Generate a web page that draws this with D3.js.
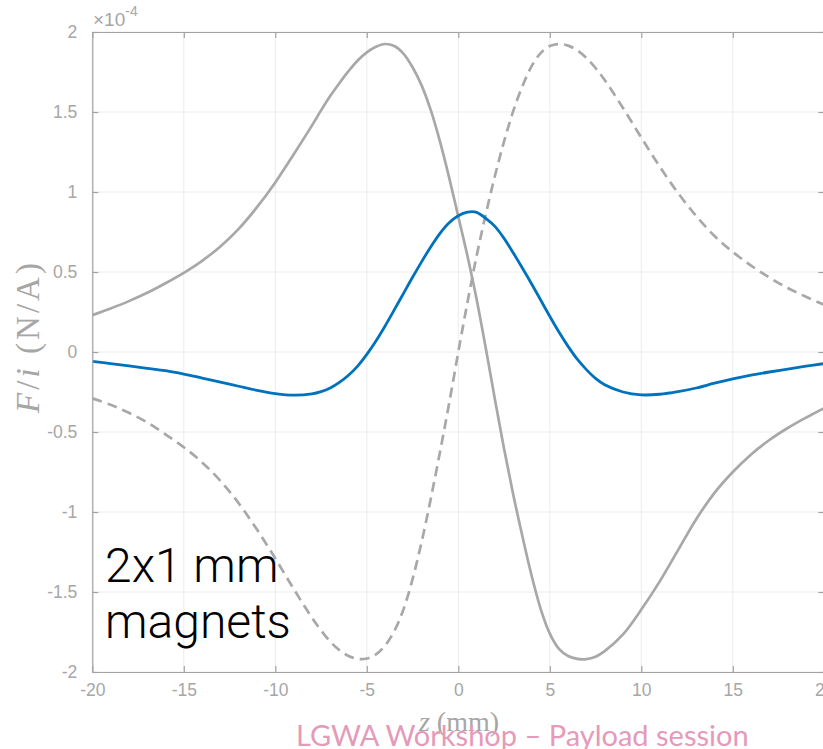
<!DOCTYPE html>
<html>
<head>
<meta charset="utf-8">
<script src="https://cdn.jsdelivr.net/npm/d3@7"></script>
<style>
  html, body { margin: 0; padding: 0; background: #fff; }
  svg { display: block; }
</style>
</head>
<body>
<svg id="chart" width="823" height="749"></svg>
<script>
// Axial position z (mm) at which the force per current is sampled
const zValues = [-20, -19, -18, -17, -16, -15, -14, -13, -12, -11, -10, -9, -8,
                 -7.5, -7, -6.5, -6, -5.5, -5, -4.5, -4, -3.5, -3, -2.5, -2, -1.5, -1, -0.5,
                 0, 0.5, 1, 1.5, 2, 2.5, 3, 3.5, 4, 4.5, 5, 5.5, 6, 6.5, 7, 7.5,
                 8, 9, 10, 11, 12, 13, 14, 15, 16, 17, 18, 19, 20];

// F/i in units of 1e-4 N/A — total force
const netForce = [-0.058, -0.072, -0.087, -0.102, -0.117, -0.138, -0.163, -0.188, -0.214, -0.24, -0.26, -0.27, -0.262,
                  -0.248, -0.225, -0.19, -0.145, -0.088, -0.015, 0.069, 0.163, 0.263, 0.365, 0.467, 0.565, 0.658, 0.742, 0.808,
                  0.852, 0.874, 0.873, 0.835, 0.785, 0.71, 0.62, 0.525, 0.427, 0.325, 0.223, 0.125, 0.035, -0.045, -0.11, -0.165,
                  -0.205, -0.25, -0.268, -0.264, -0.248, -0.225, -0.195, -0.168, -0.145, -0.125, -0.107, -0.089, -0.072];

// contribution of the first magnet
const magnetA = [0.23, 0.272, 0.318, 0.37, 0.43, 0.495, 0.57, 0.66, 0.77, 0.905, 1.06, 1.235, 1.415,
                 1.51, 1.60, 1.68, 1.755, 1.822, 1.873, 1.908, 1.925, 1.912, 1.865, 1.78, 1.665, 1.51, 1.315, 1.09,
                 0.846, 0.60, 0.33, 0.025, -0.295, -0.605, -0.89, -1.15, -1.395, -1.605, -1.76, -1.855, -1.90, -1.918, -1.92, -1.905,
                 -1.87, -1.765, -1.61, -1.435, -1.24, -1.045, -0.88, -0.75, -0.64, -0.55, -0.475, -0.41, -0.35];

// contribution of the second magnet
const magnetB = [-0.29, -0.33, -0.38, -0.44, -0.515, -0.595, -0.69, -0.805, -0.945, -1.11, -1.29, -1.48, -1.66,
                 -1.74, -1.81, -1.863, -1.90, -1.918, -1.916, -1.89, -1.835, -1.745, -1.61, -1.42, -1.185, -0.915, -0.625, -0.32,
                 0.0, 0.31, 0.60, 0.86, 1.10, 1.315, 1.505, 1.66, 1.785, 1.868, 1.912, 1.925, 1.915, 1.885, 1.838, 1.775,
                 1.70, 1.525, 1.34, 1.16, 0.995, 0.85, 0.725, 0.625, 0.54, 0.465, 0.40, 0.345, 0.295];

const xTicks = [-20, -15, -10, -5, 0, 5, 10, 15, 20];
const yTicks = [-2, -1.5, -1, -0.5, 0, 0.5, 1, 1.5, 2];

const svg = d3.select("#chart");
const plot = { left: 92.3, right: 824.3, top: 32, bottom: 672 };

const x = d3.scaleLinear().domain([-20, 20]).range([plot.left, plot.right]);
const y = d3.scaleLinear().domain([-2, 2]).range([plot.bottom, plot.top]);

const axisColor = "#a2a2a2";
const labelColor = "#a6a6a6";
const gridColor = "#ececec";
const fmt = d => String(d);

// grid
const grid = svg.append("g");
grid.selectAll("line.gx").data(xTicks).join("line")
  .attr("x1", d => x(d)).attr("x2", d => x(d))
  .attr("y1", plot.top).attr("y2", plot.bottom)
  .attr("stroke", gridColor).attr("stroke-width", 1);
grid.selectAll("line.gy").data(yTicks).join("line")
  .attr("x1", plot.left).attr("x2", plot.right)
  .attr("y1", d => y(d)).attr("y2", d => y(d))
  .attr("stroke", gridColor).attr("stroke-width", 1);

// curves
svg.append("defs").append("clipPath").attr("id", "clip")
  .append("rect").attr("x", plot.left).attr("y", plot.top)
  .attr("width", plot.right - plot.left).attr("height", plot.bottom - plot.top);

const line = series => d3.line()
  .x((d, i) => x(zValues[i]))
  .y(d => y(d))
  .curve(d3.curveCatmullRom.alpha(0.5))(series);

const curves = svg.append("g").attr("clip-path", "url(#clip)");
curves.append("path").attr("d", line(magnetB))
  .attr("fill", "none").attr("stroke", "#a8a8a8").attr("stroke-width", 2.7)
  .attr("stroke-dasharray", "10,6");
curves.append("path").attr("d", line(magnetA))
  .attr("fill", "none").attr("stroke", "#a8a8a8").attr("stroke-width", 2.7);
curves.append("path").attr("d", line(netForce))
  .attr("fill", "none").attr("stroke", "#0072BD").attr("stroke-width", 2.8);

// axes (ticks point inward, box on all four sides)
const tickLen = 6;
function styleAxis(g) {
  g.selectAll("path.domain").attr("stroke", axisColor).attr("stroke-width", 1.2);
  g.selectAll(".tick line").attr("stroke", axisColor).attr("stroke-width", 1.2);
  g.selectAll(".tick text").attr("fill", labelColor)
    .attr("font-family", "'Liberation Sans', Arial, sans-serif").attr("font-size", 17.5);
}
svg.append("g").attr("transform", `translate(0,${plot.bottom})`)
  .call(d3.axisBottom(x).tickValues(xTicks).tickFormat(fmt).tickSizeInner(-tickLen).tickSizeOuter(0).tickPadding(12))
  .call(styleAxis);
svg.append("g").attr("transform", `translate(0,${plot.top})`)
  .call(d3.axisTop(x).tickValues(xTicks).tickFormat("").tickSizeInner(-tickLen).tickSizeOuter(0))
  .call(styleAxis);
svg.append("g").attr("transform", `translate(${plot.left},0)`)
  .call(d3.axisLeft(y).tickValues(yTicks).tickFormat(fmt).tickSizeInner(-tickLen).tickSizeOuter(0).tickPadding(15))
  .call(styleAxis);
svg.append("g").attr("transform", `translate(${plot.right},0)`)
  .call(d3.axisRight(y).tickValues(yTicks).tickFormat("").tickSizeInner(-tickLen).tickSizeOuter(0))
  .call(styleAxis);

// exponent marker
const expo = svg.append("text").attr("x", 93).attr("y", 26)
  .attr("fill", labelColor).attr("font-family", "'Liberation Sans', Arial, sans-serif").attr("font-size", 19);
expo.append("tspan").text("×10");
expo.append("tspan").attr("font-size", 14).attr("dy", -10).text("-4");

// axis titles
const serif = "'Liberation Serif', 'DejaVu Serif', serif";
const yl = svg.append("text")
  .attr("transform", "translate(39,338) rotate(-90)")
  .attr("text-anchor", "middle").attr("fill", labelColor)
  .attr("font-family", serif).attr("font-size", 33)
  .attr("textLength", 150).attr("lengthAdjust", "spacing");
yl.append("tspan").attr("font-style", "italic").text("F");
yl.append("tspan").text("/");
yl.append("tspan").attr("font-style", "italic").text("i");
yl.append("tspan").text(" (N/A)");

const xl = svg.append("text").attr("x", 459).attr("y", 731)
  .attr("text-anchor", "middle").attr("fill", labelColor)
  .attr("font-family", serif).attr("font-size", 28);
xl.append("tspan").attr("font-style", "italic").text("z");
xl.append("tspan").text(" (mm)");

// annotation
const note = svg.append("text").attr("x", 105).attr("fill", "#000")
  .attr("font-family", "Roboto, sans-serif").attr("font-weight", 300).attr("font-size", 48);
note.append("tspan").attr("x", 105).attr("y", 582).text("2x1 mm");
note.append("tspan").attr("x", 105).attr("y", 638).text("magnets");

// footer
svg.append("text").attr("x", 296).attr("y", 746)
  .attr("fill", "#e59ab9").attr("font-family", "Lato, 'Open Sans', sans-serif").attr("font-size", 29)
  .text("LGWA Workshop – Payload session");
</script>
</body>
</html>
